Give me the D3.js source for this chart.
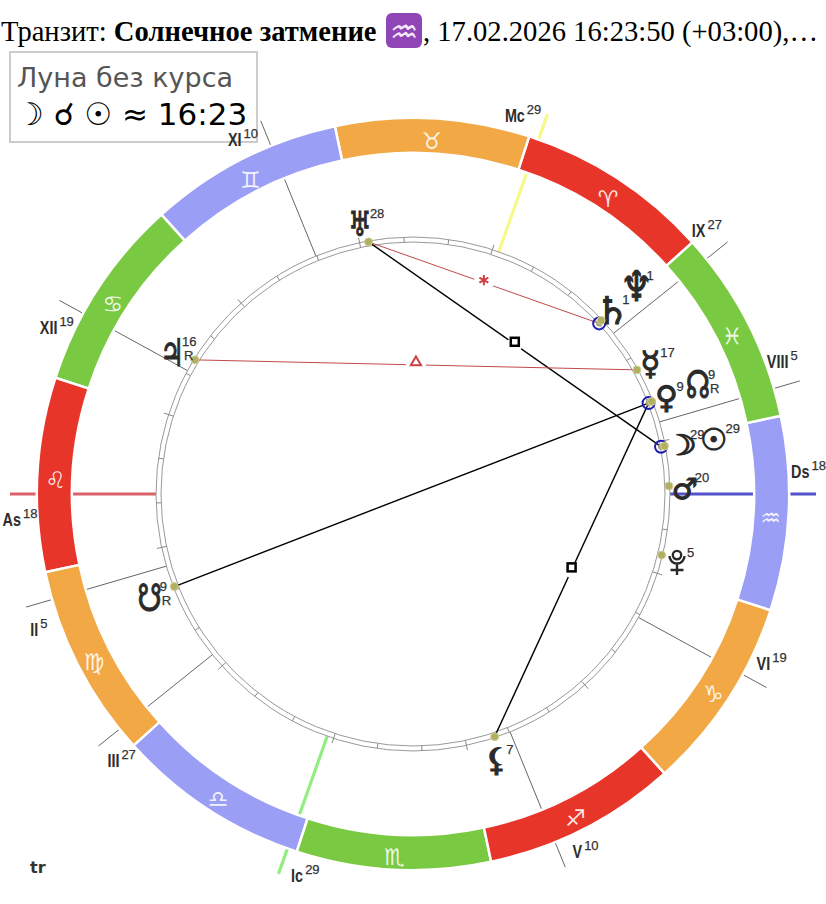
<!DOCTYPE html>
<html>
<head>
<meta charset="utf-8">
<script src="https://cdnjs.cloudflare.com/ajax/libs/d3/7.8.5/d3.min.js"></script>
<style>
  body { margin: 0; background: #fff; }
  svg { display: block; }
  .num { font-family: "Liberation Sans", sans-serif; font-size: 13px; fill: #333; stroke: #333; stroke-width: 0.25; }
  .house { font-family: "Liberation Sans", sans-serif; font-size: 18px; font-weight: bold; fill: #2e2e2e; }
  .glyph { font-family: "DejaVu Sans", sans-serif; fill: #2a2a2a; stroke: #2a2a2a; stroke-width: 1.1; }
</style>
</head>
<body>
<svg id="chart"></svg>
<script>
// signs, starting at 0 Aries
var signGlyphs = ["♈", "♉", "♊", "♋", "♌", "♍", "♎", "♏", "♐", "♑", "♒", "♓"];
var signColors = ["#e8352a", "#f2a845", "#9b9ef5", "#7ac943"];

// house cusps
var cuspNames = ["As", "II", "III", "Ic", "V", "VI", "Ds", "VIII", "IX", "Mc", "XI", "XII"];
var cuspLons = [138, 154.3, 176.7, 208.5, 250.2, 289.3, 318, 334.3, 356.7, 28.5, 70.2, 109.3];
var cuspDegrees = [18, 5, 27, 29, 10, 19, 18, 5, 27, 29, 10, 19];
var axisColors = { As: "#d9636a", Ds: "#5252cc", Mc: "#f8f88a", Ic: "#93ee82" };

// planets, the order decides who gets pushed to the second row
var planetNames = ["Uranus", "Saturn", "Neptune", "Mercury", "Venus", "Node", "Moon", "Sun", "Mars", "Pluto", "Lilith", "Jupiter", "SouthNode"];
var planetGlyphs = ["♅", "♄", "♆", "☿", "♀", "☊", "☽", "☉", "♂", "", "⚸", "♃", "☋"];
var planetLons = [58, 0.5, 0.7, 347, 339.1, 339.2, 328.8, 328.8, 319.8, 304.2, 246.6, 106.4, 159.2];
var planetDegrees = [28, 1, 1, 17, 9, 9, 29, 29, 20, 5, 7, 16, 9];
var planetRetro = ["Node", "Jupiter", "SouthNode"];
var planetCircled = ["Saturn", "Venus", "Moon"];

// aspects
var aspectFrom = ["Uranus", "Venus", "Venus", "Uranus", "Jupiter"];
var aspectTo = ["Moon", "Lilith", "SouthNode", "Saturn", "Mercury"];
var aspectKinds = ["square", "square", "opposition", "sextile", "trine"];

// the dejavu planet glyphs differ a lot in size and are wider than the original ones
var glyphSizes = { "♅": 34, "♄": 38, "♆": 42, "☿": 33, "♀": 31, "☊": 38, "☽": 28, "☉": 30, "♂": 29, "⚸": 32, "♃": 38, "☋": 38 };
var glyphSqueeze = { "♅": 0.75, "♆": 0.85, "☊": 0.72, "☽": 1.35, "♃": 0.7, "☋": 0.72 };

var width = 826,
  height = 904,
  cx = 413,
  cy = 494,
  asc = cuspLons[0];

var svg = d3.select("#chart").attr("width", width).attr("height", height);

// header line
var head = svg
  .append("text")
  .attr("x", 1)
  .attr("y", 41)
  .attr("font-family", "Liberation Serif")
  .attr("font-size", 28.6)
  .attr("fill", "#000");
head.append("tspan").text("Транзит: ");
head.append("tspan").attr("font-weight", "bold").text("Солнечное затмение");

svg
  .append("rect")
  .attr("x", 386)
  .attr("y", 13)
  .attr("width", 36)
  .attr("height", 35)
  .attr("rx", 6)
  .attr("fill", "#8f45b5");
svg
  .append("text")
  .attr("x", 404)
  .attr("y", 43)
  .attr("text-anchor", "middle")
  .attr("font-family", "DejaVu Sans")
  .attr("font-size", 32)
  .attr("fill", "#f4e8fa")
  .text("♒");
svg
  .append("text")
  .attr("x", 423)
  .attr("y", 41)
  .attr("font-family", "Liberation Serif")
  .attr("font-size", 28.6)
  .attr("fill", "#000")
  .text(", 17.02.2026 16:23:50 (+03:00),…");

// void of course box
svg
  .append("rect")
  .attr("x", 10)
  .attr("y", 52)
  .attr("width", 247)
  .attr("height", 90)
  .attr("fill", "#fff")
  .attr("stroke", "#ccc")
  .attr("stroke-width", 2);
svg
  .append("text")
  .attr("x", 17)
  .attr("y", 87)
  .attr("font-family", "DejaVu Sans")
  .attr("font-size", 27)
  .attr("fill", "#555")
  .text("Луна без курса");
svg
  .append("text")
  .attr("x", 16)
  .attr("y", 125)
  .attr("font-family", "DejaVu Sans")
  .attr("font-size", 31)
  .attr("fill", "#000")
  .text("☽ ☌ ☉ ≈ 16:23");

// longitude to d3 angle: 0 at the top, clockwise
var angle = d3
  .scaleLinear()
  .domain([0, 360])
  .range([((270 + asc) * Math.PI) / 180, ((270 + asc - 360) * Math.PI) / 180]);

function polar(lon, r) {
  var p = d3.pointRadial(angle(lon), r);
  return [cx + p[0], cy + p[1]];
}

var g = svg.append("g");

// house lines, they run under the band
cuspNames.forEach(function (name, i) {
  var a = polar(cuspLons[i], 257),
    b = polar(cuspLons[i], 403);
  var axis = axisColors[name];
  g.append("line")
    .attr("x1", a[0])
    .attr("y1", a[1])
    .attr("x2", b[0])
    .attr("y2", b[1])
    .attr("stroke", axis || "#666")
    .attr("stroke-width", axis ? 3.2 : 1);
});

// zodiac band
var arc = d3.arc().innerRadius(341).outerRadius(376);
g.append("g")
  .attr("transform", "translate(" + cx + "," + cy + ")")
  .selectAll("path")
  .data(signGlyphs)
  .enter()
  .append("path")
  .attr("d", function (d, i) {
    return arc({ startAngle: angle(i * 30), endAngle: angle((i + 1) * 30) });
  })
  .attr("fill", function (d, i) {
    return signColors[i % 4];
  })
  .attr("stroke", "#fff")
  .attr("stroke-width", 2.5);

g.selectAll(".sign")
  .data(signGlyphs)
  .enter()
  .append("text")
  .attr("class", "sign")
  .attr("x", function (d, i) {
    return polar(i * 30 + 15, 358)[0];
  })
  .attr("y", function (d, i) {
    return polar(i * 30 + 15, 358)[1] + 13;
  })
  .attr("text-anchor", "middle")
  .attr("font-family", "DejaVu Sans")
  .attr("font-size", 23)
  .attr("fill", "#fff")
  .attr("fill-opacity", 0.88)
  .text(function (d) {
    return d + "\uFE0E";
  });

// double ring with ticks
[252, 257].forEach(function (r) {
  g.append("circle")
    .attr("cx", cx)
    .attr("cy", cy)
    .attr("r", r)
    .attr("fill", "none")
    .attr("stroke", "#999")
    .attr("stroke-width", 1);
});

g.selectAll(".tick")
  .data(d3.range(0, 360, 10))
  .enter()
  .append("line")
  .attr("class", "tick")
  .attr("x1", function (d) {
    return polar(d, 252)[0];
  })
  .attr("y1", function (d) {
    return polar(d, 252)[1];
  })
  .attr("x2", function (d) {
    return polar(d, d % 30 == 0 ? 262 : 257)[0];
  })
  .attr("y2", function (d) {
    return polar(d, d % 30 == 0 ? 262 : 257)[1];
  })
  .attr("stroke", "#888")
  .attr("stroke-width", 1);

// house labels, squeezed like the condensed face of the original
cuspNames.forEach(function (name, i) {
  var p = polar(cuspLons[i] + 3.5, 395);
  var x = p[0] - 7,
    y = p[1] + 8;
  var label = g
    .append("text")
    .attr("class", "house")
    .attr("transform", "translate(" + x + "," + y + ") scale(0.8,1)")
    .attr("text-anchor", "middle")
    .text(name);
  var w = label.node().getBBox().width * 0.8;
  g.append("text")
    .attr("class", "num")
    .attr("x", x + w / 2 + 2)
    .attr("y", y - 8)
    .text(cuspDegrees[i]);
});

// aspects
var dotPos = {};
planetNames.forEach(function (name, i) {
  dotPos[name] = polar(planetLons[i], planetCircled.indexOf(name) >= 0 ? 252.5 : 256);
});

aspectKinds.forEach(function (kind, i) {
  var a = dotPos[aspectFrom[i]],
    b = dotPos[aspectTo[i]];
  var red = kind == "sextile" || kind == "trine";
  g.append("line")
    .attr("x1", a[0])
    .attr("y1", a[1])
    .attr("x2", b[0])
    .attr("y2", b[1])
    .attr("stroke", red ? "#c0484a" : "#000")
    .attr("stroke-width", red ? 1 : 1.4);
  if (kind == "opposition") return;
  var mx = (a[0] + b[0]) / 2,
    my = (a[1] + b[1]) / 2;
  g.append("circle")
    .attr("cx", mx)
    .attr("cy", my)
    .attr("r", red ? 10 : 8)
    .attr("fill", "#fff");
  if (kind == "square") {
    g.append("rect")
      .attr("x", mx - 4)
      .attr("y", my - 6.5)
      .attr("width", 8)
      .attr("height", 8)
      .attr("fill", "#fff")
      .attr("stroke", "#000")
      .attr("stroke-width", 2.5);
  } else {
    g.append("path")
      .attr("transform", "translate(" + mx + "," + (my - 2.5) + ")")
      .attr("d", d3.symbol().type(kind == "trine" ? d3.symbolTriangle2 : d3.symbolAsterisk).size(75)())
      .attr("fill", "none")
      .attr("stroke", "#d04040")
      .attr("stroke-width", 2);
  }
});

// pluto has no usable glyph in the installed fonts, so it is stroked by hand
function plutoGlyph(x, y) {
  var p = d3.path();
  p.moveTo(x + 4.2, y - 8);
  p.arc(x, y - 8, 4.2, 0, Math.PI * 2);
  p.moveTo(x - 7.5, y - 7);
  p.arc(x, y - 7, 7.5, Math.PI, 0, true);
  p.moveTo(x, y);
  p.lineTo(x, y + 12);
  p.moveTo(x - 6.5, y + 7);
  p.lineTo(x + 6.5, y + 7);
  g.append("path")
    .attr("d", p.toString())
    .attr("fill", "none")
    .attr("stroke", "#2a2a2a")
    .attr("stroke-width", 2.4);
}

// planet dots and glyphs
planetNames.forEach(function (name, i) {
  var lon = planetLons[i];
  var dot = dotPos[name];
  var circled = planetCircled.indexOf(name) >= 0;
  g.append("circle")
    .attr("cx", dot[0])
    .attr("cy", dot[1])
    .attr("r", circled ? 3 : 4)
    .attr("fill", circled ? "#a8a070" : "#b0b060")
    .attr("stroke", circled ? "none" : "#d0d0a0");
  if (circled) {
    g.append("circle")
      .attr("cx", dot[0])
      .attr("cy", dot[1])
      .attr("r", 6)
      .attr("fill", "none")
      .attr("stroke", "#1c1cb0")
      .attr("stroke-width", 2);
  }

  var row = 0;
  for (var j = 0; j < i; j++) {
    if (Math.abs(planetLons[j] - lon) < 3) row = 1;
  }
  var p = polar(lon, row ? 311 : 277);
  var x = p[0] - 5,
    y = p[1] + 3;
  var glyph = planetGlyphs[i];
  if (glyph) {
    var size = glyphSizes[glyph];
    g.append("text")
      .attr("class", "glyph")
      .attr("transform", "translate(" + x + "," + (y + size * 0.36) + ") scale(" + (glyphSqueeze[glyph] || 1) + ",1)")
      .attr("text-anchor", "middle")
      .attr("font-size", size)
      .text(glyph);
  } else {
    plutoGlyph(x, y);
  }
  g.append("text")
    .attr("class", "num")
    .attr("x", x + (glyph == "☉" ? 12 : 10))
    .attr("y", y - 6)
    .text(planetDegrees[i]);
  if (planetRetro.indexOf(name) >= 0) {
    g.append("text")
      .attr("class", "num")
      .attr("x", x + 12)
      .attr("y", y + 8)
      .text("R");
  }
});

svg
  .append("text")
  .attr("x", 30)
  .attr("y", 873)
  .attr("font-family", "DejaVu Sans")
  .attr("font-weight", "bold")
  .attr("font-size", 16)
  .attr("fill", "#333")
  .text("tr");
</script>
</body>
</html>
